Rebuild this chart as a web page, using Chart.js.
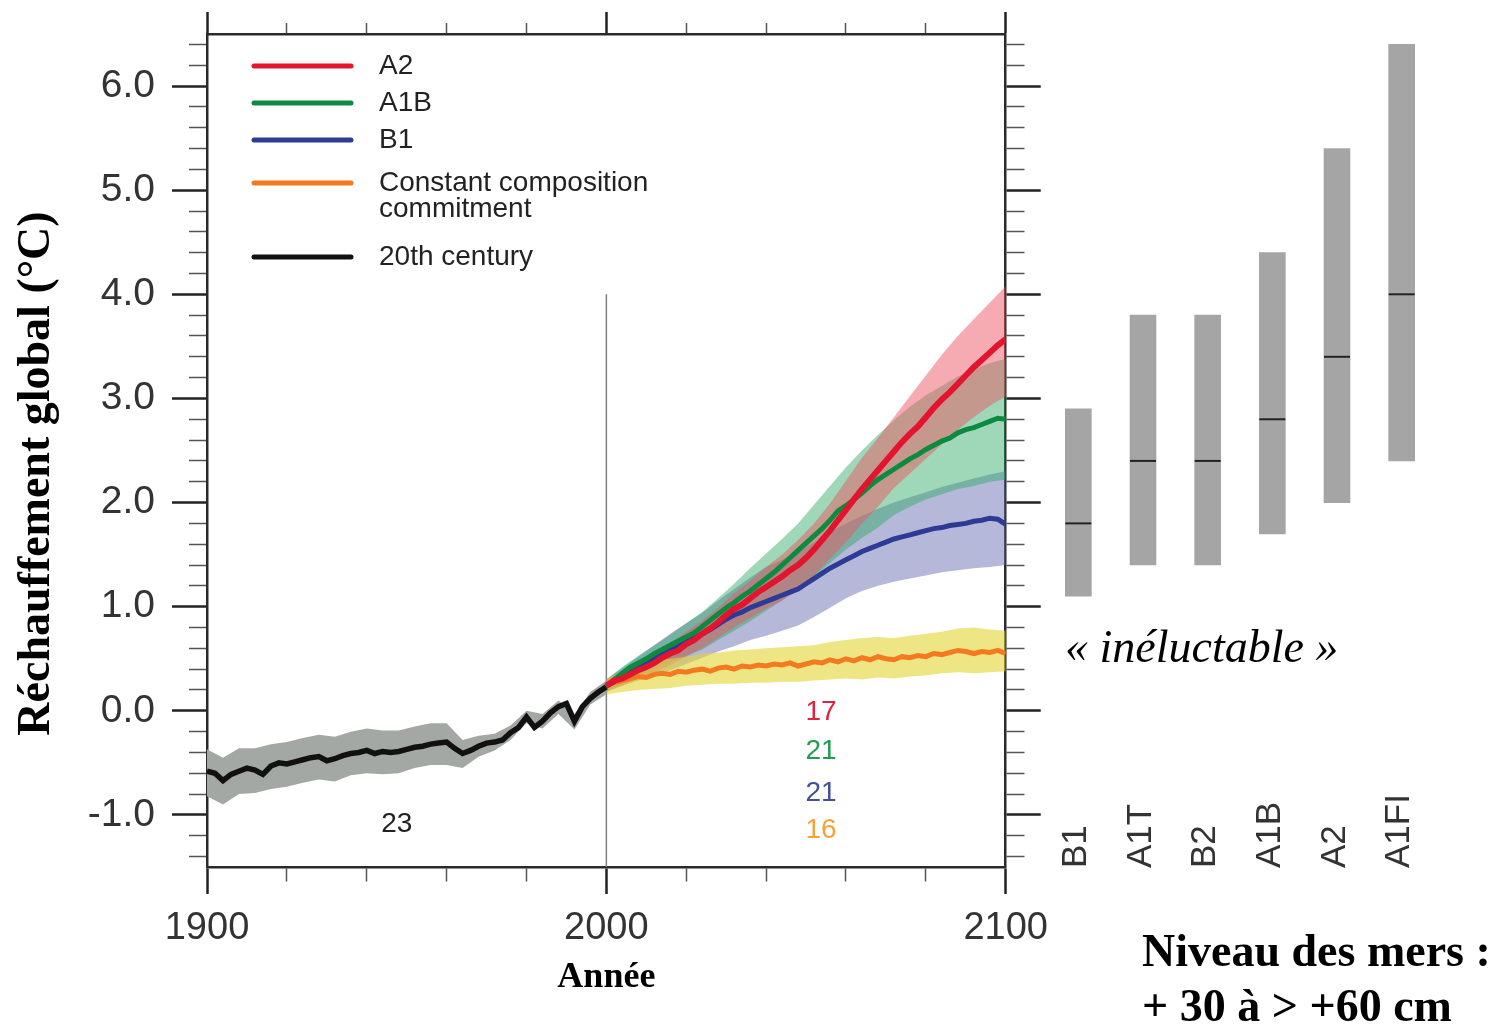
<!DOCTYPE html>
<html>
<head>
<meta charset="utf-8">
<script src="https://cdn.jsdelivr.net/npm/chart.js@4.4.1/dist/chart.umd.min.js"></script>
<style>
  body { margin: 0; background: #fff; width: 1510px; height: 1026px; overflow: hidden; position: relative; }
  #tempChart { position: absolute; left: 0; top: 0; }
  #rangeChart { position: absolute; left: 1030px; top: 0; }
  .note { position: absolute; font-family: "Liberation Serif", "Times New Roman", serif; font-size: 46px; line-height: 46px; color: #000; white-space: nowrap; }
</style>
</head>
<body>
<canvas id="tempChart" width="1060" height="1026"></canvas>
<canvas id="rangeChart" width="420" height="1026"></canvas>
<div class="note" style="left:1065px; top:624px; font-style:italic;">« inéluctable »</div>
<div class="note" style="left:1142px; top:928px; font-weight:bold;">Niveau des mers :</div>
<div class="note" style="left:1142px; top:983px; font-weight:bold;">+ 30 à &gt; +60 cm</div>
<script>
// 20th century simulation (mean every 2 years, spread every 4 years)
const histYears = [1900, 1902, 1904, 1906, 1908, 1910, 1912, 1914, 1916, 1918,
    1920, 1922, 1924, 1926, 1928, 1930, 1932, 1934, 1936, 1938,
    1940, 1942, 1944, 1946, 1948, 1950, 1952, 1954, 1956, 1958,
    1960, 1962, 1964, 1966, 1968, 1970, 1972, 1974, 1976, 1978,
    1980, 1982, 1984, 1986, 1988, 1990, 1992, 1994, 1996, 1998, 2000];
const histMean = [-0.58, -0.60, -0.67, -0.61, -0.58, -0.55, -0.57, -0.61, -0.53, -0.50,
    -0.51, -0.49, -0.47, -0.45, -0.44, -0.48, -0.46, -0.43, -0.41, -0.40,
    -0.38, -0.41, -0.39, -0.40, -0.39, -0.37, -0.35, -0.34, -0.32, -0.31,
    -0.30, -0.36, -0.41, -0.38, -0.34, -0.31, -0.30, -0.28, -0.21, -0.16,
    -0.06, -0.16, -0.10, -0.02, 0.04, 0.07, -0.10, 0.04, 0.12, 0.18, 0.23];
const histBandYears = [1900, 1904, 1908, 1912, 1916, 1920, 1924, 1928, 1932, 1936, 1940, 1944, 1948,
    1952, 1956, 1960, 1964, 1968, 1972, 1976, 1980, 1984, 1988, 1992, 1996, 2000];
const histLo = [-0.82, -0.90, -0.80, -0.79, -0.75, -0.73, -0.69, -0.66, -0.68, -0.62, -0.60, -0.61, -0.60,
    -0.55, -0.52, -0.52, -0.55, -0.44, -0.38, -0.28, -0.12, -0.17, -0.03, -0.18, 0.06, 0.16];
const histHi = [-0.37, -0.45, -0.36, -0.36, -0.32, -0.30, -0.26, -0.23, -0.25, -0.20, -0.17, -0.19, -0.19,
    -0.15, -0.12, -0.12, -0.28, -0.24, -0.22, -0.14, 0.00, -0.03, 0.10, -0.03, 0.18, 0.29];

// scenario projections
const projYears = [2000, 2002, 2004, 2006, 2008, 2010, 2012, 2014, 2016, 2018,
    2020, 2022, 2024, 2026, 2028, 2030, 2032, 2034, 2036, 2038,
    2040, 2042, 2044, 2046, 2048, 2050, 2052, 2054, 2056, 2058,
    2060, 2062, 2064, 2066, 2068, 2070, 2072, 2074, 2076, 2078,
    2080, 2082, 2084, 2086, 2088, 2090, 2092, 2094, 2096, 2098, 2100];
const a2Mean = [0.24, 0.29, 0.31, 0.35, 0.39, 0.42, 0.46, 0.51, 0.55, 0.58,
    0.64, 0.68, 0.74, 0.79, 0.85, 0.92, 0.98, 1.02, 1.08, 1.14,
    1.19, 1.24, 1.29, 1.35, 1.40, 1.47, 1.55, 1.64, 1.73, 1.83,
    1.93, 2.03, 2.13, 2.22, 2.31, 2.40, 2.49, 2.58, 2.66, 2.73,
    2.82, 2.91, 2.99, 3.06, 3.14, 3.22, 3.30, 3.37, 3.44, 3.51, 3.57];
const a1bMean = [0.24, 0.30, 0.36, 0.42, 0.46, 0.50, 0.55, 0.59, 0.63, 0.67,
    0.71, 0.75, 0.81, 0.87, 0.93, 0.99, 1.04, 1.10, 1.15, 1.21,
    1.27, 1.33, 1.40, 1.47, 1.54, 1.61, 1.68, 1.75, 1.83, 1.92,
    1.97, 2.03, 2.09, 2.16, 2.22, 2.27, 2.32, 2.37, 2.42, 2.46,
    2.51, 2.55, 2.59, 2.62, 2.67, 2.70, 2.72, 2.75, 2.78, 2.81, 2.80];
const b1Mean = [0.24, 0.28, 0.33, 0.37, 0.41, 0.45, 0.50, 0.54, 0.58, 0.62,
    0.66, 0.70, 0.74, 0.78, 0.83, 0.88, 0.92, 0.95, 0.99, 1.02,
    1.05, 1.08, 1.11, 1.14, 1.17, 1.22, 1.27, 1.32, 1.37, 1.41,
    1.45, 1.49, 1.53, 1.56, 1.59, 1.62, 1.65, 1.67, 1.69, 1.71,
    1.73, 1.75, 1.76, 1.78, 1.79, 1.80, 1.82, 1.83, 1.85, 1.84, 1.79];
const commitMean = [0.24, 0.27, 0.29, 0.31, 0.33, 0.32, 0.35, 0.36, 0.35, 0.38,
    0.37, 0.39, 0.40, 0.38, 0.41, 0.42, 0.40, 0.43, 0.42, 0.44,
    0.43, 0.45, 0.44, 0.46, 0.43, 0.45, 0.47, 0.46, 0.49, 0.47,
    0.50, 0.48, 0.51, 0.49, 0.52, 0.50, 0.49, 0.52, 0.51, 0.53,
    0.52, 0.55, 0.54, 0.56, 0.58, 0.57, 0.55, 0.57, 0.56, 0.58, 0.55];

const projBandYears = [2000, 2004, 2008, 2012, 2016, 2020, 2024, 2028, 2032, 2036, 2040, 2044, 2048,
    2052, 2056, 2060, 2064, 2068, 2072, 2076, 2080, 2084, 2088, 2092, 2096, 2100];
const a2Lo = [0.19, 0.24, 0.31, 0.37, 0.44, 0.52, 0.60, 0.70, 0.80, 0.89, 0.98, 1.06, 1.16,
    1.30, 1.46, 1.62, 1.80, 1.96, 2.14, 2.28, 2.42, 2.56, 2.70, 2.82, 2.93, 3.02];
const a2Hi = [0.30, 0.38, 0.47, 0.55, 0.65, 0.76, 0.87, 0.99, 1.13, 1.25, 1.38, 1.50, 1.64,
    1.80, 1.99, 2.21, 2.43, 2.62, 2.82, 3.02, 3.22, 3.42, 3.60, 3.76, 3.92, 4.08];
const a1bLo = [0.18, 0.26, 0.34, 0.41, 0.47, 0.53, 0.59, 0.68, 0.77, 0.86, 0.96, 1.06, 1.18,
    1.29, 1.42, 1.55, 1.66, 1.76, 1.88, 1.96, 2.03, 2.08, 2.13, 2.16, 2.20, 2.22];
const a1bHi = [0.30, 0.42, 0.53, 0.63, 0.73, 0.84, 0.95, 1.08, 1.22, 1.37, 1.51, 1.65, 1.80,
    1.98, 2.16, 2.34, 2.50, 2.65, 2.79, 2.92, 3.03, 3.12, 3.21, 3.28, 3.34, 3.38];
const b1Lo = [0.18, 0.24, 0.29, 0.34, 0.39, 0.45, 0.51, 0.57, 0.62, 0.68, 0.72, 0.77, 0.82,
    0.90, 0.99, 1.08, 1.15, 1.20, 1.24, 1.27, 1.30, 1.33, 1.35, 1.37, 1.38, 1.40];
const b1Hi = [0.30, 0.41, 0.52, 0.63, 0.74, 0.84, 0.94, 1.06, 1.17, 1.28, 1.38, 1.45, 1.52,
    1.62, 1.72, 1.80, 1.87, 1.94, 2.00, 2.05, 2.10, 2.15, 2.19, 2.23, 2.27, 2.30];
const commitLo = [0.16, 0.18, 0.20, 0.21, 0.22, 0.24, 0.25, 0.26, 0.26, 0.27, 0.27, 0.28, 0.28,
    0.29, 0.30, 0.31, 0.30, 0.32, 0.31, 0.33, 0.34, 0.36, 0.37, 0.36, 0.37, 0.38];
const commitHi = [0.30, 0.38, 0.44, 0.48, 0.50, 0.52, 0.55, 0.56, 0.58, 0.59, 0.60, 0.61, 0.62,
    0.63, 0.66, 0.68, 0.70, 0.71, 0.70, 0.72, 0.74, 0.76, 0.79, 0.80, 0.78, 0.77];

// divider at year 2000
const dividerYears = [2000, 2000];
const dividerValues = [4.0, -1.5];

// model counts written under the curves
const countText = ['23', '17', '21', '21', '16'];
const countYears = [1947.5, 2053.75, 2053.75, 2053.75, 2053.75];
const countValues = [-1.09, -0.01, -0.39, -0.79, -1.15];

// ticks
const yTickValues = [-1.4, -1.2, -1.0, -0.8, -0.6, -0.4, -0.2, 0.0, 0.2, 0.4, 0.6, 0.8, 1.0, 1.2, 1.4, 1.6, 1.8, 2.0,
    2.2, 2.4, 2.6, 2.8, 3.0, 3.2, 3.4, 3.6, 3.8, 4.0, 4.2, 4.4, 4.6, 4.8, 5.0, 5.2, 5.4, 5.6, 5.8, 6.0, 6.2, 6.4];
const xTickValues = [1900, 1920, 1940, 1960, 1980, 2000, 2020, 2040, 2060, 2080, 2100];
const xLabelYears = [1900, 2000, 2100];

// ranges at 2100 for the six marker scenarios
const rangeNames = ['B1', 'A1T', 'B2', 'A1B', 'A2', 'A1FI'];
const rangeLow = [1.1, 1.4, 1.4, 1.7, 2.0, 2.4];
const rangeHigh = [2.9, 3.8, 3.8, 4.4, 5.4, 6.4];
const rangeBest = [1.8, 2.4, 2.4, 2.8, 3.4, 4.0];

const SANS = '"Liberation Sans", Arial, Helvetica, sans-serif';
const SERIF = '"Liberation Serif", "Times New Roman", serif';
const RED = '#e3142d', GREEN = '#0c8a40', BLUE = '#2d3b96', ORANGE = '#f37a1f', BLACK = '#111111';
const countColors = ['#222222', '#e0223e', '#1f9e52', '#434f9e', '#f3a43a'];

Chart.defaults.font.family = SANS;

const pts = (xs, ys) => xs.map((x, i) => ({ x: x, y: ys[i] }));

function band(label, xs, lo, hi, color, order) {
    return [
        { label: label + ' max', data: pts(xs, hi), borderWidth: 0, borderColor: 'rgba(0,0,0,0)',
          pointRadius: 0, backgroundColor: color, fill: '+1', order: order },
        { label: label + ' min', data: pts(xs, lo), borderWidth: 0, borderColor: 'rgba(0,0,0,0)',
          pointRadius: 0, fill: false, order: order }
    ];
}

function series(label, xs, ys, color, width, order) {
    return { label: label, data: pts(xs, ys), borderColor: color, borderWidth: width,
             pointRadius: 0, fill: false, tension: 0, order: order };
}

const isMajorY = v => Math.abs(v - Math.round(v)) < 1e-6;
const isMajorX = v => v % 100 === 0;

// legend drawn inside the plot, top left
const legendEntries = [
    { text: ['A2'], color: RED },
    { text: ['A1B'], color: GREEN },
    { text: ['B1'], color: BLUE },
    { text: ['Constant composition', 'commitment'], color: ORANGE },
    { text: ['20th century'], color: BLACK }
];
const insideLegend = {
    id: 'insideLegend',
    afterDatasetsDraw(chart) {
        const { ctx, chartArea } = chart;
        const rows = [32, 69, 106, 149, 223];
        ctx.save();
        ctx.font = '28px ' + SANS;
        ctx.textBaseline = 'middle';
        ctx.textAlign = 'left';
        ctx.lineCap = 'round';
        legendEntries.forEach((e, i) => {
            const y = chartArea.top + rows[i];
            ctx.strokeStyle = e.color;
            ctx.lineWidth = 5;
            ctx.beginPath();
            ctx.moveTo(chartArea.left + 47, y);
            ctx.lineTo(chartArea.left + 144, y);
            ctx.stroke();
            ctx.fillStyle = '#222';
            e.text.forEach((t, j) => ctx.fillText(t, chartArea.left + 172, y + j * 26));
        });
        ctx.restore();
    }
};

const modelCounts = {
    id: 'modelCounts',
    afterDatasetsDraw(chart) {
        const { ctx, scales } = chart;
        ctx.save();
        ctx.font = '28px ' + SANS;
        ctx.textAlign = 'center';
        ctx.textBaseline = 'middle';
        countText.forEach((t, i) => {
            ctx.fillStyle = countColors[i];
            ctx.fillText(t, scales.x.getPixelForValue(countYears[i]), scales.y.getPixelForValue(countValues[i]));
        });
        ctx.restore();
    }
};

const yTicksHook = s => { s.ticks = yTickValues.map(v => ({ value: v })); };
const xTicksHook = s => { s.ticks = xTickValues.map(v => ({ value: v })); };
const frame = { display: true, color: '#2a2a2a', width: 2.5 };

function yGrid(dash) {
    return {
        drawOnChartArea: false, drawTicks: true, tickLength: 35,
        tickColor: c => (c.tick && isMajorY(c.tick.value)) ? '#222' : '#555',
        tickWidth: c => (c.tick && isMajorY(c.tick.value)) ? 2.5 : 1.5,
        tickBorderDash: c => (c.tick && isMajorY(c.tick.value)) ? [] : dash
    };
}
function xGrid(len, dash) {
    return {
        drawOnChartArea: false, drawTicks: true, tickLength: len,
        tickColor: c => (c.tick && isMajorX(c.tick.value)) ? '#222' : '#555',
        tickWidth: c => (c.tick && isMajorX(c.tick.value)) ? 2.5 : 1.5,
        tickBorderDash: c => (c.tick && isMajorX(c.tick.value)) ? [] : dash
    };
}

new Chart(document.getElementById('tempChart'), {
    type: 'line',
    data: {
        datasets: [
            series('A2', projYears, a2Mean, RED, 6, 1),
            series('A1B', projYears, a1bMean, GREEN, 5, 2),
            series('B1', projYears, b1Mean, BLUE, 5, 3),
            series('Constant composition commitment', projYears, commitMean, ORANGE, 5, 4),
            series('20th century', histYears, histMean, BLACK, 5.5, 5),
            ...band('Constant composition commitment', projBandYears, commitLo, commitHi, 'rgba(226, 214, 52, 0.6)', 6),
            ...band('A2', projBandYears, a2Lo, a2Hi, 'rgba(236, 88, 100, 0.5)', 7),
            ...band('A1B', projBandYears, a1bLo, a1bHi, 'rgba(40, 168, 100, 0.45)', 8),
            ...band('B1', projBandYears, b1Lo, b1Hi, 'rgba(110, 114, 180, 0.5)', 9),
            ...band('20th century', histBandYears, histLo, histHi, '#a4a8a4', 10),
            series('2000', dividerYears, dividerValues, '#808080', 1.5, 11)
        ]
    },
    options: {
        responsive: false,
        animation: false,
        layout: { padding: 0 },
        plugins: { legend: { display: false }, tooltip: { enabled: false } },
        scales: {
            x: {
                type: 'linear', position: 'bottom', min: 1900, max: 2100,
                afterBuildTicks: xTicksHook,
                afterFit: s => { s.height = 159; },
                ticks: { autoSkip: false, maxRotation: 0, padding: 12, color: '#333', font: { size: 38 },
                         callback: v => xLabelYears.includes(v) ? String(v) : '' },
                grid: xGrid(27, [13, 100]),
                border: frame,
                title: { display: true, text: 'Année', color: '#000',
                         font: { family: SERIF, size: 36, weight: 'bold' }, padding: { top: 0, bottom: 27 } }
            },
            xTop: {
                type: 'linear', position: 'top', min: 1900, max: 2100,
                afterBuildTicks: xTicksHook,
                afterFit: s => { s.height = 34; },
                ticks: { display: false },
                grid: xGrid(22, [0, 11, 100]),
                border: frame
            },
            y: {
                type: 'linear', position: 'left', min: -1.5, max: 6.5,
                afterBuildTicks: yTicksHook,
                afterFit: s => { s.width = 207; },
                ticks: { autoSkip: false, padding: 17, color: '#333', font: { size: 39, lineHeight: 0.8 },
                         callback: v => isMajorY(v) ? v.toFixed(1) : '' },
                grid: yGrid([0, 17, 100]),
                border: frame,
                title: { display: true, text: 'Réchauffement global (°C)\u00a0\u00a0\u00a0\u00a0', color: '#000',
                         font: { family: SERIF, size: 46, weight: 'bold' }, padding: { top: 10, bottom: 0 } }
            },
            yR: {
                type: 'linear', position: 'right', min: -1.5, max: 6.5,
                afterBuildTicks: yTicksHook,
                afterFit: s => { s.width = 53; },
                ticks: { display: false },
                grid: yGrid([18, 100]),
                border: frame
            }
        }
    },
    plugins: [insideLegend, modelCounts]
});

// scenario names written upward under each bar
const rangeLabels = {
    id: 'rangeLabels',
    afterDraw(chart) {
        const { ctx, scales } = chart;
        ctx.save();
        ctx.font = '35px ' + SANS;
        ctx.fillStyle = '#333';
        ctx.textAlign = 'left';
        ctx.textBaseline = 'middle';
        rangeNames.forEach((n, i) => {
            ctx.save();
            ctx.translate(scales.x.getPixelForValue(i) - 2, 868);
            ctx.rotate(-Math.PI / 2);
            ctx.fillText(n, 0, 0);
            ctx.restore();
        });
        ctx.restore();
    }
};

new Chart(document.getElementById('rangeChart'), {
    type: 'bar',
    data: {
        labels: rangeNames,
        datasets: [
            { type: 'line', label: 'best estimate', data: rangeBest, showLine: false,
              pointStyle: 'line', pointRadius: 13, pointBorderColor: '#222', pointBorderWidth: 2,
              borderColor: '#222', order: 0 },
            { label: 'likely range', data: rangeNames.map((_, i) => [rangeLow[i], rangeHigh[i]]),
              backgroundColor: '#a4a5a4', barThickness: 26, order: 1 }
        ]
    },
    options: {
        responsive: false,
        animation: false,
        layout: { padding: { top: 34, bottom: 159, left: 16, right: 16 } },
        plugins: { legend: { display: false }, tooltip: { enabled: false } },
        scales: {
            x: { display: false },
            y: { display: false, min: -1.5, max: 6.5 }
        }
    },
    plugins: [rangeLabels]
});
</script>
</body>
</html>
